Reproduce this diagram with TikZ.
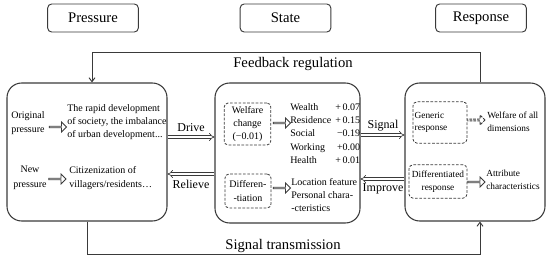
\documentclass[tikz,border=0pt]{standalone}
\usepackage{fontspec}
\setmainfont{Liberation Serif}
\usetikzlibrary{arrows.meta, positioning, fit, shapes.arrows}
\definecolor{ink}{HTML}{3A3A3A}

\tikzset{
  hdrbox/.style={draw=ink, line width=0.7pt, rounded corners=3pt, minimum width=68pt, minimum height=21pt, font=\fontsize{11}{13}\selectfont},
  bigbox/.style={draw=ink, line width=0.8pt, rounded corners=11pt, inner sep=0pt},
  dashbox/.style={draw=ink, dash pattern=on 2pt off 1.2pt, line width=0.6pt, rounded corners=3pt, align=center, inner sep=0pt},
  hollow/.style={draw=ink, line width=0.6pt, single arrow, single arrow head extend=1.8pt, minimum height=13pt, minimum width=7.5pt, inner sep=0pt},
  dblarrow/.style={draw=ink, double, double distance=1.6pt, line width=0.5pt, -{Implies}},
  fbline/.style={draw=ink, line width=0.7pt, -{Straight Barb[length=3pt, width=4.5pt]}},
  txt/.style={font=\fontsize{7.5}{10}\selectfont, align=left, inner sep=0pt},
  smalltxt/.style={font=\fontsize{7}{9.5}\selectfont, inner sep=0pt},
  lbl/.style={font=\fontsize{9}{11}\selectfont, inner sep=0pt},
  bigtxt/.style={font=\fontsize{11}{13}\selectfont, inner sep=0pt},
}

\begin{document}
\begin{tikzpicture}[x=0.75pt, y=-0.75pt]
\useasboundingbox (0,0) rectangle (550,260);

%% Headings
\node[hdrbox] (hP) at (93,18) {Pressure};
\node[hdrbox] (hS) at (285.5,18) {State};
\node[hdrbox] (hR) at (481,18) {Response};

%% Main boxes
\node[bigbox, fit={(7,83) (167,221)}] (pbox) {};
\node[bigbox, fit={(215,83) (360,223)}] (sbox) {};
\node[bigbox, fit={(405,83) (545,221)}] (rbox) {};

%% Pressure box
\node[txt, align=center] (orig) at (28,123) {Original\\[1pt]pressure};
\node[hollow] (a1) at (57.5,127) {};
\node[txt, anchor=west] (origtxt) at (67,122) {The rapid development\\of society, the imbalance\\of urban development...};

\node[txt, align=center] (newp) at (30,178) {New\\[1pt]pressure};
\node[hollow] (a2) at (57,179) {};
\node[txt, anchor=west] (newtxt) at (69,178) {Citizenization of\\villagers/residents…};

%% State box
\node[dashbox, minimum width=35pt, minimum height=31.5pt, font=\fontsize{7.5}{10}\selectfont] (wchg) at (247.5,124) {Welfare\\change\\(−0.01)};
\node[hollow] (a3) at (281.5,123) {};
\node[txt, anchor=west] (dims) at (290,134)
  {\begin{tabular}{@{}l@{\hspace{3pt}}r@{}}
   Wealth & +\,0.07\\ Residence & +\,0.15\\ Social & −0.19\\ Working & +0.00\\ Health & +\,0.01
   \end{tabular}};

\node[dashbox, minimum width=34.5pt, minimum height=25.5pt, font=\fontsize{7.5}{10}\selectfont] (diff) at (248,191) {Differen-\\-tiation};
\node[hollow] (a4) at (281.5,188) {};
\node[txt, anchor=west] (feat) at (291,195) {Location feature\\Personal chara-\\-cteristics};

%% Response box
\node[dashbox, minimum width=40.5pt, minimum height=31pt, smalltxt, text width=38pt, align=left] (gen) at (440,122.5) {Generic\\response};
\node[hollow, line width=0.7pt, dash pattern=on 2pt off 0.9pt] (a5) at (476,120) {};
\node[smalltxt, anchor=west, align=left] (allw) at (487,121.5) {Welfare of all\\dimensions};

\node[dashbox, minimum width=43.5pt, minimum height=25pt, smalltxt] (dres) at (438,181.5) {Differentiated\\response};
\node[hollow] (a6) at (476,182) {};
\node[smalltxt, anchor=west, align=left] (attr) at (486,179.5) {Attribute\\characteristics};

%% Arrows between boxes
\draw[dblarrow] (pbox.east |- 0,137) -- (sbox.west |- 0,137);
\node[lbl] (drv) at (191,128) {Drive};
\draw[dblarrow] (sbox.west |- 0,174) -- (pbox.east |- 0,174);
\node[lbl] (rlv) at (191,184) {Relieve};

\draw[dblarrow] (sbox.east |- 0,135) -- (rbox.west |- 0,135);
\node[lbl] (sgn) at (383,126) {Signal};
\draw[dblarrow] (rbox.west |- 0,179) -- (sbox.east |- 0,179);
\node[lbl] (imp) at (383,189) {Improve};

%% Feedback loop
\draw[fbline] (rbox.north -| 480,0) -- (480,52) -| (pbox.north -| 92,0);
\node[bigtxt] (fbk) at (293,64) {Feedback regulation};

%% Signal transmission loop
\draw[fbline] (pbox.south -| 87,0) -- (87,254) -| (rbox.south -| 480,0);
\node[bigtxt] (sgt) at (283,246) {Signal transmission};

\end{tikzpicture}
\end{document}
